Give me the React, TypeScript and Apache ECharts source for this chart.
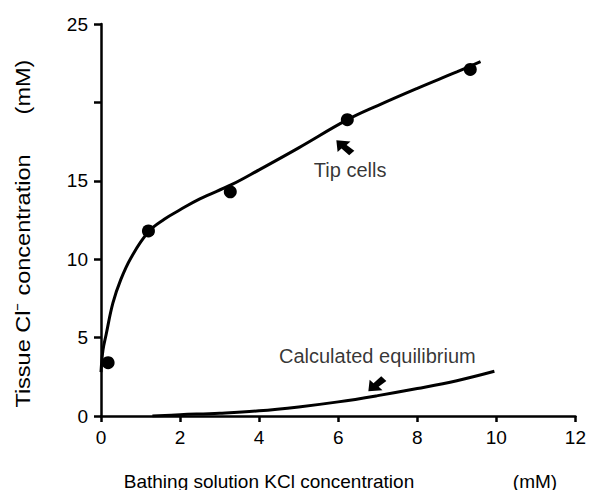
import React, { useEffect, useRef } from "react";
import * as echarts from "echarts";

const xTicks = [0, 2, 4, 6, 8, 10, 12];
const yTickLabels: Record<number, string> = { 0: "0", 5: "5", 10: "10", 15: "15", 20: "", 25: "25" };

const xAxisTitle = "Bathing solution KCl concentration";
const yAxisTitle = "Tissue Cl⁻ concentration";
const unitTitle = "(mM)";

const tipPoints: [number, number][] = [
  [0.18, 3.4],
  [1.2, 11.8],
  [3.27, 14.3],
  [6.23, 18.9],
  [9.34, 22.1],
];

const tipCurve: [number, number][] = [
  [0.0, 2.8],
  [0.05, 4.2],
  [0.13, 5.2],
  [0.3, 7.2],
  [0.5, 8.7],
  [0.76, 10.1],
  [1.2, 11.75],
  [1.6, 12.55],
  [2.0, 13.15],
  [2.5, 13.85],
  [3.3, 14.75],
  [4.0, 15.7],
  [5.0, 17.1],
  [6.2, 18.85],
  [7.0, 19.8],
  [8.0, 20.9],
  [9.0, 21.95],
  [9.6, 22.6],
];

const equilibriumCurve: [number, number][] = [
  [1.3, 0.0],
  [2.0, 0.08],
  [3.0, 0.18],
  [4.0, 0.33],
  [5.0, 0.58],
  [6.0, 0.9],
  [7.0, 1.3],
  [8.0, 1.75],
  [9.0, 2.25],
  [9.95, 2.85],
];

const labels = [
  { name: "Tip cells", x: 6.3, y: 15.7 },
  { name: "Calculated equilibrium", x: 6.99, y: 3.8 },
];

const ARROW_UP_LEFT = "path://M0,0 L11,1 L8,4 L14,9 L10,13 L4,7 L1,10 Z";
const ARROW_DOWN_LEFT = "path://M0,13 L11,12 L8,9 L14,4 L10,0 L4,6 L1,3 Z";

const arrows = [
  { x: 6.18, y: 17.1, symbol: ARROW_UP_LEFT },
  { x: 6.99, y: 2.05, symbol: ARROW_DOWN_LEFT },
];

const FONT = "Liberation Sans";

export default function App() {
  const ref = useRef<HTMLDivElement>(null);
  useEffect(() => {
    if (!ref.current) return;
    const chart = echarts.init(ref.current, undefined, { renderer: "svg" });
    chart.setOption({
      animation: false,
      backgroundColor: "#ffffff",
      textStyle: { fontFamily: FONT, color: "#000" },
      grid: { left: 101, right: 12, top: 24, bottom: 74 },
      graphic: [
        {
          type: "text",
          x: 269,
          y: 481,
          style: { text: xAxisTitle, font: `19px '${FONT}'`, fill: "#000", align: "center", verticalAlign: "middle" },
        },
        {
          type: "text",
          x: 535,
          y: 481,
          style: { text: unitTitle, font: `19px '${FONT}'`, fill: "#000", align: "center", verticalAlign: "middle" },
        },
        {
          type: "text",
          x: 23,
          y: 281,
          rotation: Math.PI / 2,
          scaleX: 1.12,
          style: { text: yAxisTitle, font: `21px '${FONT}'`, fill: "#000", align: "center", verticalAlign: "middle" },
        },
        {
          type: "text",
          x: 23,
          y: 87,
          rotation: Math.PI / 2,
          scaleX: 1.12,
          style: { text: unitTitle, font: `21px '${FONT}'`, fill: "#000", align: "center", verticalAlign: "middle" },
        },
      ],
      xAxis: {
        type: "value",
        min: 0,
        max: 12,
        interval: 2,
        axisLine: { show: true, lineStyle: { color: "#000", width: 2.5 } },
        axisTick: { show: true, length: 6, lineStyle: { color: "#000", width: 2.5 } },
        axisLabel: {
          fontSize: 19,
          color: "#000",
          margin: 12,
          formatter: (v: number) => (xTicks.includes(v) ? String(v) : ""),
        },
        splitLine: { show: false },
      },
      yAxis: {
        type: "value",
        min: 0,
        max: 25,
        interval: 5,
        axisLine: { show: true, lineStyle: { color: "#000", width: 2.5 } },
        axisTick: { show: true, length: 7, lineStyle: { color: "#000", width: 2.5 } },
        axisLabel: {
          fontSize: 19,
          color: "#000",
          margin: 13,
          formatter: (v: number) => yTickLabels[v] ?? "",
        },
        splitLine: { show: false },
      },
      series: [
        {
          type: "line",
          data: tipCurve,
          smooth: 0.4,
          showSymbol: false,
          lineStyle: { color: "#000", width: 3 },
          z: 3,
        },
        {
          type: "line",
          data: equilibriumCurve,
          smooth: 0.4,
          showSymbol: false,
          lineStyle: { color: "#000", width: 3 },
          z: 3,
        },
        {
          type: "scatter",
          data: tipPoints,
          symbol: "circle",
          symbolSize: 13,
          itemStyle: { color: "#000", opacity: 1 },
          z: 4,
        },
        {
          type: "scatter",
          data: arrows.map((a) => ({ value: [a.x, a.y], symbol: a.symbol })),
          symbolSize: [18, 15],
          itemStyle: { color: "#000", opacity: 1 },
          z: 4,
        },
        {
          type: "scatter",
          data: labels.map((l) => ({ value: [l.x, l.y], name: l.name })),
          symbolSize: 0,
          itemStyle: { color: "transparent" },
          label: {
            show: true,
            position: "inside",
            formatter: (p: any) => p.name,
            fontSize: 20,
            color: "#000",
            fontFamily: FONT,
          },
          z: 5,
        },
      ],
    });
    return () => chart.dispose();
  }, []);
  return <div ref={ref} style={{ width: 589, height: 490, position: "absolute", left: 0, top: 0 }} />;
}
